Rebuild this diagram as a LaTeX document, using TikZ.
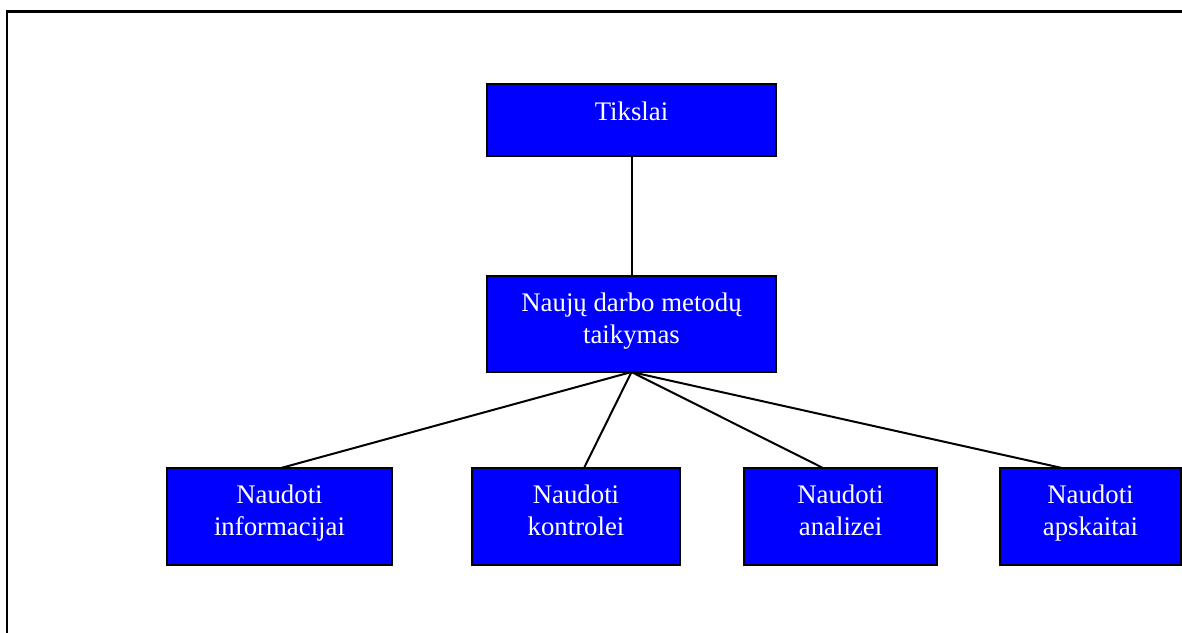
\documentclass[tikz,border=0pt]{standalone}
\usepackage{fontspec}
\setmainfont{Liberation Serif}
\begin{document}
\begin{tikzpicture}[x=1pt,y=-1pt,
  box/.style={draw=black, line width=2.4pt, fill=boxblue, inner sep=0pt, outer sep=0pt},
  txt/.style={text=white, font=\fontsize{26.8}{32}\selectfont, align=center, inner sep=0pt, anchor=base},
  link/.style={draw=black, line width=2pt}]
\definecolor{boxblue}{RGB}{0,0,255}
\useasboundingbox (0,0) rectangle (1182,632);
\clip (0,0) rectangle (1182,632);
% outer frame, running past the right and bottom edges
\draw[line width=2.4pt] (7,11.5) rectangle (1200,650);

% boxes
\node[box, minimum width=289pt, minimum height=72pt] (t) at (631.5,120) {};
\node[box, minimum width=289pt, minimum height=96pt] (n) at (631.5,324) {};
\node[box, minimum width=225pt, minimum height=97pt] (b1) at (279.5,516.5) {};
\node[box, minimum width=208pt, minimum height=97pt] (b2) at (576,516.5) {};
\node[box, minimum width=193pt, minimum height=97pt] (b3) at (840.5,516.5) {};
\node[box, minimum width=181pt, minimum height=97pt] (b4) at (1090.5,516.5) {};

% captions (base anchor sits on the last line)
\node[txt] (tt) at ([yshift=-36pt]t.north) {Tikslai};
\node[txt] (nt) at ([yshift=-67pt]n.north) {Naujų darbo metodų\\taikymas};
\node[txt] (t1) at ([yshift=-67pt]b1.north) {Naudoti\\informacijai};
\node[txt] (t2) at ([yshift=-67pt]b2.north) {Naudoti\\kontrolei};
\node[txt] (t3) at ([yshift=-67pt]b3.north) {Naudoti\\analizei};
\node[txt] (t4) at ([yshift=-67pt]b4.north) {Naudoti\\apskaitai};

% connectors
\draw[link] (t.south) -- (n.north);
\draw[link] (n.south) -- ([xshift=1.5pt]b1.north);
\draw[link] (n.south) -- ([xshift=8pt]b2.north);
\draw[link] (n.south) -- ([xshift=-17.5pt]b3.north);
\draw[link] (n.south) -- ([xshift=-28.5pt]b4.north);
\end{tikzpicture}
\end{document}
